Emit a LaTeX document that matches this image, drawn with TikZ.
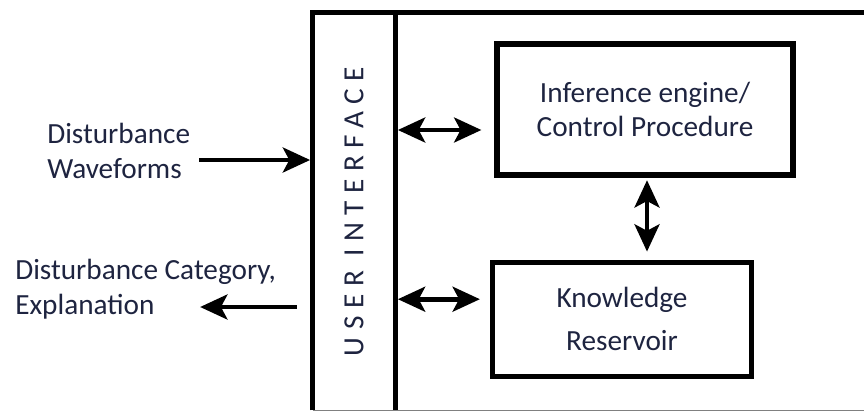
\documentclass[tikz,border=0pt]{standalone}
\usepackage{fontspec}
\setmainfont{Carlito}
\usepackage{tikz}
\usetikzlibrary{arrows.meta,positioning}

\definecolor{inktext}{RGB}{30,36,64}

\begin{document}
\begin{tikzpicture}[box/.style={rectangle, draw, line width=0.13cm, align=center, text=inktext}, label/.style={inner sep=0pt, align=left, text=inktext}, frame/.style={line width=0.13cm}, arrow/.style={-{Stealth[length=0.68cm, width=0.62cm, inset=0.16cm]}, line width=0.12cm}, dbl/.style={{Stealth[length=0.68cm, width=0.62cm, inset=0.16cm]}-{Stealth[length=0.68cm, width=0.62cm, inset=0.16cm]}, line width=0.12cm}, node font=\fontsize{20.8pt}{24.6pt}\selectfont]
        \useasboundingbox (0,0) rectangle (21.6,-10.275);
        % user interface strip on the left side of the system
        \node[minimum width=2.05cm, minimum height=9.925cm, inner sep=0pt, text=inktext] (ui) at (8.85,-5.2875) {\rotatebox{90}{\addfontfeature{LetterSpace=26}USER INTERFACE}};
        \node[box, minimum width=7.4cm, minimum height=3.275cm] (inf) at (16.125,-2.7375) {Inference engine/\\Control Procedure};
        \node[box, minimum width=6.475cm, minimum height=2.85cm, below=2.05cm of inf, xshift=-0.575cm] (kr) {Knowledge\\[0.2cm]Reservoir};
        \node[label, anchor=west] (inwave) at (1.175,-3.775) {Disturbance\\Waveforms};
        \node[label, anchor=west] (outcat) at (0.375,-7.225) {Disturbance Category,\\Explanation};
        % frame
        \draw[frame] (ui.south west) -- (ui.north west) -- ++(14,0);
        \draw[frame] (ui.north east) -- (ui.south east);
        \draw[gray, line width=0.8pt] (ui.south west) -- ++(14,0);
        % ports
        \coordinate (inend) at ([xshift=-0.065cm, yshift=1.2875cm]ui.west);
        \coordinate (outstart) at ([xshift=-0.4cm, yshift=-2.3875cm]ui.west);
        \coordinate (outtip) at ([xshift=-1.9cm]outcat.east |- outstart);
        \coordinate (infport) at ([xshift=-0.325cm, yshift=-0.5125cm]inf.west);
        \coordinate (krport) at ([xshift=-0.25cm, yshift=0.5cm]kr.west);
        \draw[arrow] ([xshift=0.225cm]inwave.east |- inend) -- (inend);
        \draw[arrow] (outstart) -- (outtip);
        \draw[dbl] ([xshift=0.065cm]ui.east |- infport) -- (infport);
        \draw[dbl] ([xshift=0.065cm]ui.east |- krport) -- (krport);
        \draw[dbl, shorten <=0.065cm, shorten >=0.2cm] ([xshift=0.05cm]inf.south) -- ([xshift=0.05cm]inf.south |- kr.north);
      \end{tikzpicture}
\end{document}
